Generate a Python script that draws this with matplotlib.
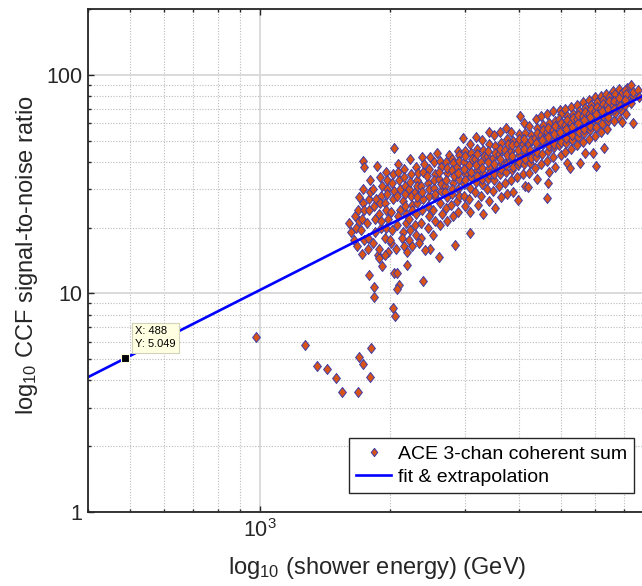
import matplotlib
matplotlib.use('Agg')
import matplotlib.pyplot as plt
from matplotlib.ticker import LogLocator, NullFormatter, FuncFormatter, FixedLocator

plt.rcParams['font.family'] = ['Liberation Sans', 'DejaVu Sans']
plt.rcParams['mathtext.fontset'] = 'custom'
plt.rcParams['mathtext.rm'] = 'Liberation Sans'
plt.rcParams['mathtext.it'] = 'Liberation Sans:italic'
plt.rcParams['mathtext.bf'] = 'Liberation Sans:bold'

# shower energy (GeV) and CCF SNR
energy = [
    1607, 1651, 1630, 1660,
    1703, 1670, 1690, 1680, 1700,
    1740, 1742, 1738, 1745, 1725, 1735, 1720, 1750, 1728,
    1790, 1775, 1800, 1785, 1795, 1780, 1788, 1805,
    1866, 1840, 1850, 1835, 1855, 1846, 1846, 1860, 1830, 1876,
    1900, 1915, 1895, 1910, 1920, 1905, 1924, 1890, 1912,
    1960, 1975, 1955, 1980, 1970, 1950, 1985, 1965, 1972, 1958,
    2050, 2025, 2040, 2020, 2035, 2030, 2050, 2040, 2060, 2015, 2045,
    2090, 2105, 2085, 2110, 2095, 2080, 2100, 2087, 2115, 2080, 2088,
    2160, 2175, 2150, 2180, 2165, 2155, 2170, 2185, 2158, 2172,
    2230, 2245, 2220, 2250, 2235, 2225, 2200, 2240, 2255, 2215, 2228,
    2300, 2320, 2295, 2315, 2305, 2290, 2325, 2310, 2298, 2318,
    2375, 2395, 2370, 2390, 2380, 2365, 2400, 2385, 2372, 2390,
    2488, 2470, 2450, 2465, 2455, 2475, 2445, 2468, 2458, 2480,
    2580, 2530, 2550, 2535, 2545, 2525, 2555, 2540, 2520, 2548,
    2615, 2635, 2610, 2630, 2620, 2640, 2605, 2628, 2610, 2618,
    2750, 2700, 2720, 2695, 2715, 2705, 2725, 2690, 2712, 2702,
    2790, 2805, 2785, 2810, 2795, 2780, 2800, 2815, 2788, 2830,
    2880, 2895, 2875, 2900, 2885, 2870, 2905, 2890, 2878, 2898,
    2960, 2990, 2975, 2995, 2980, 2970, 3000, 2985, 2972, 2992,
    3070, 3090, 3065, 3095, 3080, 3060, 3100, 3085, 3080, 3075,
    3170, 3195, 3165, 3190, 3180, 3160, 3200, 3185, 3172, 3192,
    3270, 3300, 3265, 3295, 3280, 3260, 3305, 3285, 3275, 3290,
    3400, 3395, 3370, 3410, 3385, 3365, 3405, 3390, 3375, 3398,
    3485, 3515, 3480, 3510, 3495, 3475, 3520, 3500, 3490, 3505,
    3600, 3630, 3595, 3625, 3610, 3590, 3635, 3615, 3605, 3620,
    3715, 3750, 3710, 3745, 3730, 3705, 3755, 3735, 3720, 3740,
    3835, 3870, 3830, 3865, 3850, 3825, 3875, 3855, 3840, 3860,
    4020, 3990, 3955, 3985, 3970, 3950, 4000, 3980, 3977, 3995,
    4090, 4125, 4085, 4120, 4105, 4080, 4130, 4110, 4095, 4115,
    4220, 4260, 4215, 4255, 4240, 4210, 4265, 4245, 4180, 4250,
    4360, 4400, 4355, 4395, 4380, 4350, 4405, 4385, 4370, 4390,
    4500, 4545, 4495, 4540, 4520, 4490, 4550, 4525, 4650, 4630,
    4645, 4690, 4640, 4685, 4665, 4635, 4695, 4670, 4655, 4680,
    4795, 4845, 4790, 4840, 4820, 4785, 4850, 4825, 4805, 4830,
    4975, 5000, 4945, 4995, 4980, 4940, 5005, 4985, 4960, 4990,
    5110, 5160, 5105, 5155, 5135, 5100, 5165, 5140, 5120, 5150,
    5280, 5330, 5275, 5325, 5300, 5270, 5335, 5305, 5240, 5310,
    5450, 5500, 5445, 5495, 5475, 5440, 5540, 5480, 5460, 5490,
    5625, 5680, 5620, 5675, 5650, 5615, 5685, 5660, 5635, 5670,
    5810, 5870, 5805, 5865, 5840, 5800, 5930, 5845, 5820, 5860,
    6000, 6060, 5995, 6055, 6030, 5990, 6065, 6035, 6030,
    6190, 6250, 6185, 6245, 6220, 6180, 6255, 6225, 6280,
    6350, 6460, 6395, 6455, 6430, 6390, 6465, 6435, 6410,
    6610, 6670, 6605, 6665, 6640, 6675, 6645, 6620,
    6815, 6885, 6810, 6880, 6850, 6820, 6855, 6900,
    7120, 7040, 7100, 7035, 7075, 7045, 7080,
    7270, 7330, 7265, 7325, 7330,
    7520, 7560,
    1890, 1950, 2010, 2070, 2140, 2190, 2260, 2340, 2420,
    980, 1271, 1355, 1430, 1500, 1548, 1694, 1703, 1740, 1816, 1798,
]
snr = [
    21.0, 17.6, 19.0, 22.5,
    27.6, 20.0, 24.0, 16.5, 21.5,
    40.4, 38.0, 30.0, 17.6, 22.0, 26.0, 19.5, 24.0, 15.2,
    27.0, 21.0, 33.0, 18.0, 24.0, 16.0, 12.2, 29.0,
    38.2, 25.0, 22.0, 30.0, 19.0, 10.7, 9.6, 27.0, 17.0, 15.0,
    34.0, 28.0, 23.0, 20.0, 31.0, 26.0, 13.4, 14.5, 21.5,
    36.0, 30.0, 26.0, 22.0, 33.0, 18.0, 15.5, 24.0, 28.5, 20.0,
    46.3, 32.0, 27.0, 23.5, 35.0, 19.5, 12.4, 8.6, 7.9, 17.0, 29.5,
    39.0, 33.0, 28.0, 24.0, 36.0, 20.5, 10.9, 10.5, 30.0, 12.4, 22.5,
    37.0, 31.0, 26.5, 23.0, 34.0, 19.0, 28.5, 21.0, 16.5, 25.0,
    41.0, 35.0, 30.0, 25.5, 32.5, 22.0, 13.5, 28.0, 24.0, 17.5, 19.5,
    38.0, 33.0, 29.0, 26.0, 23.0, 20.5, 35.5, 27.5, 18.5, 31.0,
    42.0, 36.0, 31.0, 27.0, 24.0, 21.0, 39.0, 29.0, 18.0, 11.4,
    42.2, 37.0, 32.0, 28.0, 25.0, 22.5, 34.5, 30.0, 20.0, 16.0,
    44.0, 40.0, 35.0, 30.5, 27.5, 24.0, 21.5, 33.0, 18.5, 28.5,
    40.5, 38.0, 33.5, 29.5, 26.0, 23.0, 36.0, 31.5, 14.6, 20.5,
    43.0, 40.0, 35.5, 31.0, 27.5, 24.5, 37.5, 29.0, 21.5, 33.0,
    41.0, 39.5, 36.5, 32.0, 28.5, 25.5, 22.5, 34.5, 30.0, 16.7,
    45.0, 43.0, 38.0, 33.5, 30.0, 26.5, 40.5, 35.5, 23.5, 28.0,
    51.5, 45.0, 40.0, 35.0, 31.5, 28.0, 25.0, 42.5, 37.0, 33.0,
    48.5, 44.0, 38.5, 34.0, 30.5, 27.0, 41.0, 36.0, 18.9, 23.5,
    52.0, 46.0, 41.0, 36.5, 32.5, 29.0, 25.5, 43.5, 38.5, 34.5,
    50.5, 45.5, 40.0, 35.5, 31.5, 28.0, 42.5, 37.5, 33.5, 23.0,
    54.8, 48.0, 42.5, 37.5, 33.5, 30.0, 26.5, 45.0, 40.0, 35.0,
    53.0, 47.0, 41.5, 37.0, 33.0, 29.5, 44.0, 39.0, 35.0, 24.5,
    54.5, 49.0, 43.5, 39.0, 35.0, 31.0, 27.5, 46.0, 41.0, 37.0,
    57.0, 51.0, 45.5, 40.5, 36.0, 32.0, 48.0, 43.0, 38.5, 28.5,
    55.0, 50.0, 45.0, 40.5, 36.5, 33.0, 29.0, 47.5, 42.5, 38.0,
    64.9, 53.5, 48.0, 43.0, 38.5, 34.0, 51.0, 45.5, 26.8, 40.0,
    60.0, 54.0, 48.5, 43.5, 39.0, 35.0, 31.0, 51.0, 46.0, 41.0,
    58.5, 53.0, 48.0, 43.5, 39.5, 35.5, 50.5, 45.5, 30.7, 41.5,
    63.0, 57.0, 51.5, 46.5, 42.0, 37.5, 33.5, 54.0, 49.0, 44.5,
    65.0, 59.0, 53.0, 48.0, 43.5, 39.0, 56.0, 50.5, 32.0, 27.4,
    66.5, 60.0, 54.5, 49.5, 45.0, 40.5, 36.0, 57.0, 52.0, 47.0,
    68.0, 61.5, 56.0, 51.0, 46.5, 42.0, 58.5, 53.5, 48.5, 38.0,
    69.2, 66.0, 63.0, 57.5, 52.5, 47.5, 43.0, 60.0, 55.0, 49.5,
    69.5, 65.0, 59.0, 54.0, 49.0, 44.5, 62.0, 56.5, 51.5, 39.5,
    71.0, 66.5, 60.5, 55.5, 50.5, 46.0, 63.5, 58.0, 37.5, 53.0,
    73.0, 68.5, 62.5, 57.0, 52.0, 47.5, 39.5, 60.0, 65.5, 54.5,
    75.0, 70.5, 64.5, 59.0, 54.0, 49.5, 67.5, 62.0, 56.5, 44.0,
    77.0, 72.5, 66.5, 61.0, 56.0, 51.0, 44.0, 64.0, 58.5, 69.5,
    79.0, 75.0, 68.5, 63.0, 57.5, 52.5, 71.5, 66.0, 38.3,
    80.0, 77.0, 70.5, 65.0, 59.5, 54.5, 73.5, 68.0, 46.3,
    81.9, 79.0, 73.0, 67.0, 61.5, 56.5, 76.0, 70.0, 64.0,
    84.0, 79.0, 72.5, 67.0, 61.5, 82.0, 75.5, 70.0,
    86.0, 81.5, 75.0, 69.0, 63.0, 78.0, 72.0, 60.9,
    87.2, 85.0, 79.3, 73.0, 82.0, 76.5, 66.5,
    90.0, 80.0, 74.5, 83.5, 60.3,
    85.0, 79.0,
    16.0, 15.0, 17.5, 16.0, 18.0, 15.5, 16.5, 17.0, 15.8,
    6.35, 5.81, 4.66, 4.5, 4.1, 3.55, 3.55, 5.12, 4.76, 5.63, 4.15,
]

fit_energy = [400, 8750]
fit_snr = [4.139, 90.53]
tip_x, tip_y = 488, 5.049

W, H = 642, 586
fig = plt.figure(figsize=(W / 100, H / 100), dpi=100)
ax = fig.add_axes([88 / W, 74 / H, 578 / W, 503 / H])

diamond = [(0, 1), (0.78, 0), (0, -1), (-0.78, 0), (0, 1)]
ax.plot(energy, snr, linestyle='none', marker=diamond, ms=7.2,
        mfc='#D95319', mec='#3C3CA8', mew=0.7, label='ACE 3-chan coherent sum')
ax.plot(fit_energy, fit_snr, color='#0000FF', lw=1.9, label='fit & extrapolation')

# data tip
ax.plot([tip_x], [tip_y], marker='s', ms=5.5, mfc='k', mec='#FFFFE0', mew=0.8, zorder=5)
ax.annotate('X: %d\nY: %.3f' % (tip_x, tip_y), xy=(tip_x, tip_y), xytext=(10, 9),
            textcoords='offset pixels', fontsize=8, ha='left', va='bottom',
            linespacing=1.35, zorder=6,
            bbox=dict(boxstyle='square,pad=0.3', fc='#FFFFE1', ec='#D2D2B8', lw=0.8))

ax.set_xscale('log')
ax.set_yscale('log')
ax.set_xlim(400, 8750)
ax.set_ylim(1, 200)

ax.xaxis.set_major_locator(FixedLocator([1000]))
ax.xaxis.set_minor_locator(LogLocator(base=10, subs=range(2, 10)))
ax.xaxis.set_major_formatter(FuncFormatter(lambda v, p: r'$10^{3}$'))
ax.xaxis.set_minor_formatter(NullFormatter())
ax.yaxis.set_major_locator(FixedLocator([1, 10, 100]))
ax.yaxis.set_minor_locator(LogLocator(base=10, subs=range(2, 10)))
ax.yaxis.set_major_formatter(FuncFormatter(lambda v, p: '%g' % v))
ax.yaxis.set_minor_formatter(NullFormatter())

ax.grid(which='major', color='#DADADA', lw=1.4, ls='-')
ax.grid(which='minor', color='#BBBBBB', lw=0.8, ls=(0, (1, 1.5)))
ax.set_axisbelow(True)

for s in ax.spines.values():
    s.set_color('#262626')
    s.set_linewidth(1.3)
ax.tick_params(which='both', direction='in', top=True, right=True,
               colors='#262626', labelsize=15.5, width=1)
ax.tick_params(which='major', length=4.5)
ax.tick_params(which='minor', length=2.5)
ax.tick_params(axis='x', pad=5)
ax.tick_params(axis='y', pad=4)

ax.set_xlabel(r'log$_{10}$ (shower energy) (GeV)', fontsize=17, color='#262626')
ax.set_ylabel(r'log$_{10}$ CCF signal-to-noise ratio', fontsize=17, color='#262626')
ax.xaxis.set_label_coords(0.5, -43 / 503)
ax.yaxis.set_label_coords(-48 / 578, (512 - 255) / 503)

leg = ax.legend(loc='lower right', bbox_to_anchor=(634 / W, 93 / H),
                bbox_transform=fig.transFigure, fontsize=14, fancybox=False,
                framealpha=1, edgecolor='#262626', borderaxespad=0,
                handlelength=1.8, handletextpad=0.35, labelspacing=0.3,
                borderpad=0.35)
leg.get_frame().set_linewidth(1.0)
leg.get_lines()[0].set_markersize(6)

fig.savefig('out.png', dpi=100)
